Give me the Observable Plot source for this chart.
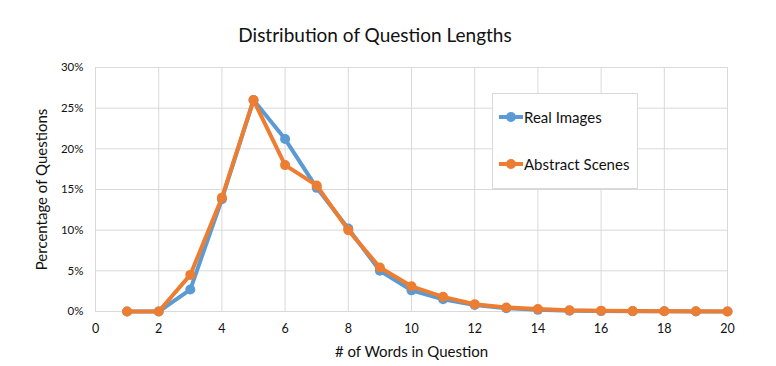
<!DOCTYPE html>
<html>
<head>
<meta charset="utf-8">
<script src="https://cdn.jsdelivr.net/npm/d3@7"></script>
<script src="https://cdn.jsdelivr.net/npm/@observablehq/plot@0.6"></script>
<style>
  body { margin: 0; background: #fff; font-family: Lato, "Open Sans", sans-serif; }
  #wrap { position: relative; width: 776px; height: 366px; }
  #title { width: 750px; height: 26px; padding-top: 24px; text-align: center; font-size: 19px; line-height: 22px; color: #111; }
  #legend { position: absolute; left: 492px; top: 93px; width: 144px; height: 94px; border: 1px solid #d9d9d9; background: #fff; font-size: 15px; color: #111; }
  .item { position: absolute; left: 6px; height: 20px; display: flex; align-items: center; }
  .item svg { margin-right: 1px; }
</style>
</head>
<body>
<div id="wrap">
  <div id="title">Distribution of Question Lengths</div>
  <div id="chart"></div>
  <div id="legend">
    <div class="item" style="top:13px"><svg width="24" height="12"><line x1="0" y1="6" x2="24" y2="6" stroke="#5b9bd5" stroke-width="4"/><circle cx="12" cy="6" r="5" fill="#5b9bd5"/></svg><span>Real Images</span></div>
    <div class="item" style="top:60px"><svg width="24" height="12"><line x1="0" y1="6" x2="24" y2="6" stroke="#ed7d31" stroke-width="4"/><circle cx="12" cy="6" r="5" fill="#ed7d31"/></svg><span>Abstract Scenes</span></div>
  </div>
</div>
<script>
const words = [1,2,3,4,5,6,7,8,9,10,11,12,13,14,15,16,17,18,19,20];
const realImages = [0,0,2.7,13.8,26.0,21.2,15.2,10.2,5.0,2.6,1.5,0.8,0.4,0.2,0.1,0.05,0.03,0.02,0.01,0];
const abstractScenes = [0,0,4.5,14.0,26.0,18.0,15.5,10.0,5.4,3.1,1.8,0.9,0.5,0.3,0.15,0.1,0.05,0.03,0.02,0];
const xTicks = [0,2,4,6,8,10,12,14,16,18,20];
const yTicks = [0,5,10,15,20,25,30];
const seriesNames = ["Real Images", "Abstract Scenes"];
const seriesColors = ["#5b9bd5", "#ed7d31"];

const rows = [];
words.forEach((w, i) => {
  rows.push({words: w, pct: realImages[i], series: seriesNames[0]});
});
words.forEach((w, i) => {
  rows.push({words: w, pct: abstractScenes[i], series: seriesNames[1]});
});
const realRows = rows.filter(d => d.series === seriesNames[0]);
const absRows = rows.filter(d => d.series === seriesNames[1]);

const chart = Plot.plot({
  width: 776,
  height: 316,
  marginTop: 17,
  marginLeft: 95,
  marginRight: 49,
  marginBottom: 55,
  style: { fontFamily: "Lato, 'Open Sans', sans-serif", fontSize: "11.5px", color: "#111", background: "#fff" },
  x: { domain: [0, 20] },
  y: { domain: [0, 30] },
  marks: [
    Plot.gridX(xTicks, { stroke: "#d9d9d9", strokeOpacity: 1 }),
    Plot.gridY(yTicks, { stroke: "#d9d9d9", strokeOpacity: 1 }),
    Plot.axisX(xTicks, { tickSize: 0, tickPadding: 13, label: null, fontSize: 12.5 }),
    Plot.axisY(yTicks, { tickSize: 0, tickPadding: 12, label: null, tickFormat: d => d + "%" }),
    Plot.text(["# of Words in Question"], { frameAnchor: "bottom", dy: 45, fontSize: 15, fill: "#111" }),
    Plot.text(["Percentage of Questions"], { frameAnchor: "left", textAnchor: "middle", rotate: -90, dx: -53, fontSize: 15, fill: "#111" }),
    Plot.line(realRows, { x: "words", y: "pct", stroke: seriesColors[0], strokeWidth: 4 }),
    Plot.dot(realRows, { x: "words", y: "pct", fill: seriesColors[0], r: 5 }),
    Plot.line(absRows, { x: "words", y: "pct", stroke: seriesColors[1], strokeWidth: 4 }),
    Plot.dot(absRows, { x: "words", y: "pct", fill: seriesColors[1], r: 5 })
  ]
});
document.getElementById("chart").appendChild(chart);
</script>
</body>
</html>
